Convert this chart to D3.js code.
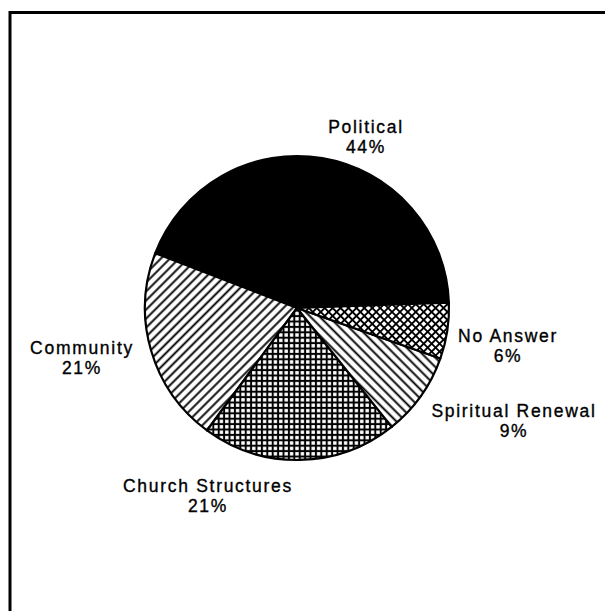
<!DOCTYPE html>
<html>
<head>
<meta charset="utf-8">
<script src="https://cdn.jsdelivr.net/npm/d3@7"></script>
<style>
  html, body { margin: 0; padding: 0; background: #fff; }
  svg { display: block; }
  text { font-family: "Liberation Sans", Arial, sans-serif; font-size: 17.5px; fill: #000; stroke: #000; stroke-width: 0.35px; letter-spacing: 1.7px; }
</style>
</head>
<body>
<svg id="chart" width="605" height="611"></svg>
<script>
// Survey response shares (percent)
const categories = ["Political", "Community", "Church Structures", "Spiritual Renewal", "No Answer"];
const values = [44, 21, 21, 9, 6];
const valueLabels = ["44%", "21%", "21%", "9%", "6%"];
const fills = ["solid", "hatchUp", "grid", "hatchDown", "cross"];

const W = 605, H = 611;
const cx = 297, cy = 308, radius = 152;

const svg = d3.select("#chart");

// Frame (top and left rules running off the page edges)
svg.append("path")
  .attr("d", `M10,${H} L10,12.5 L${W},12.5`)
  .attr("fill", "none")
  .attr("stroke", "#000")
  .attr("stroke-width", 3);

// Fill patterns
const defs = svg.append("defs");

function linePattern(id, size, angle, width, both) {
  const p = defs.append("pattern")
    .attr("id", id)
    .attr("patternUnits", "userSpaceOnUse")
    .attr("width", size)
    .attr("height", size)
    .attr("patternTransform", `rotate(${angle})`);
  p.append("rect").attr("width", size).attr("height", size).attr("fill", "#fff");
  p.append("line")
    .attr("x1", size / 2).attr("y1", 0).attr("x2", size / 2).attr("y2", size)
    .attr("stroke", "#000").attr("stroke-width", width);
  if (both) {
    p.append("line")
      .attr("x1", 0).attr("y1", size / 2).attr("x2", size).attr("y2", size / 2)
      .attr("stroke", "#000").attr("stroke-width", width);
  }
}
linePattern("hatchUp", 6.4, 45, 1.9, false);
linePattern("hatchDown", 6.6, -45, 1.9, false);
linePattern("grid", 5.4, 0, 2.0, true);
linePattern("cross", 5.6, 45, 1.9, true);

function fillFor(key) {
  return key === "solid" ? "#000" : `url(#${key})`;
}

// Slices run counter-clockwise from just above 3 o'clock
const start = Math.PI / 2 - 2 * Math.PI / 180;
const pie = d3.pie()
  .sort(null)
  .value(d => d.value)
  .startAngle(start)
  .endAngle(start - 2 * Math.PI);

const rows = categories.map((c, i) => ({ category: c, value: values[i], label: valueLabels[i], fill: fills[i] }));
const arcs = pie(rows);

const arc = d3.arc().innerRadius(0).outerRadius(radius);

const g = svg.append("g").attr("transform", `translate(${cx},${cy})`);
g.selectAll("path.slice")
  .data(arcs)
  .join("path")
  .attr("class", "slice")
  .attr("d", arc)
  .attr("fill", d => fillFor(d.data.fill))
  .attr("stroke", "#000")
  .attr("stroke-width", 2.2)
  .attr("stroke-linejoin", "round");

// Label anchors (centre x, first baseline y)
const labelPos = {
  "Political": [366, 133],
  "Community": [82, 354],
  "Church Structures": [208, 492],
  "Spiritual Renewal": [514, 417],
  "No Answer": [508, 342]
};
const lineGap = 20;

const labels = svg.selectAll("g.label")
  .data(arcs)
  .join("g")
  .attr("class", "label")
  .attr("transform", d => `translate(${labelPos[d.data.category][0]},${labelPos[d.data.category][1]})`);
labels.append("text")
  .attr("text-anchor", "middle")
  .text(d => d.data.category);
labels.append("text")
  .attr("text-anchor", "middle")
  .attr("y", lineGap)
  .text(d => d.data.label);
</script>
</body>
</html>
